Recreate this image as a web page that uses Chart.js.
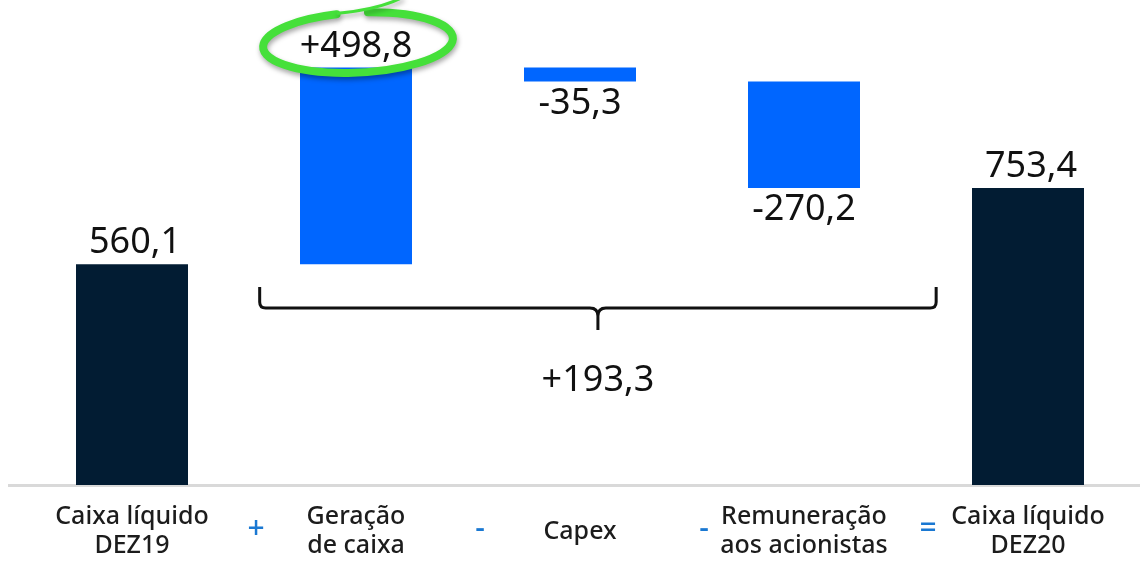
<!DOCTYPE html>
<html>
<head>
<meta charset="utf-8">
<script src="https://cdn.jsdelivr.net/npm/chart.js@4.4.1/dist/chart.umd.min.js"></script>
<style>
  html, body { margin: 0; padding: 0; background: #fff; overflow: hidden; }
  #wrap { width: 1140px; height: 568px; }
</style>
</head>
<body>
<div id="wrap"><canvas id="chart"></canvas></div>
<script>
// waterfall data (R$ milhões)
const categories = [['Caixa líquido', 'DEZ19'], ['Geração', 'de caixa'], ['Capex'], ['Remuneração', 'aos acionistas'], ['Caixa líquido', 'DEZ20']];
const values = [560.1, 498.8, -35.3, -270.2, 753.4];
const isTotal = [true, false, false, false, true];
const operators = ['+', '-', '-', '='];
const variation = 193.3;
const highlightIndex = 1;

const navy = '#021c33';
const blue = '#0066ff';
const opBlue = '#1a78d2';
const numFont = '36px "Noto Sans"';

// floating ranges from running total
let running = 0;
const ranges = values.map((v, i) => {
    if (isTotal[i]) { running = v; return [0, v]; }
    const r = [running, running + v];
    running += v;
    return r;
});

function fmt(v, signed) {
    return (signed && v > 0 ? '+' : '') + v.toFixed(1).replace('.', ',');
}

const annotations = {
    id: 'annotations',
    beforeDatasetsDraw(chart) {
        // light baseline across the whole width
        const ctx = chart.ctx;
        ctx.save();
        ctx.strokeStyle = '#d9d9d9';
        ctx.lineWidth = 3;
        ctx.beginPath();
        ctx.moveTo(8, chart.chartArea.bottom + 0.5);
        ctx.lineTo(chart.width, chart.chartArea.bottom + 0.5);
        ctx.stroke();
        ctx.restore();
    },
    afterDatasetsDraw(chart) {
        const ctx = chart.ctx;
        const meta = chart.getDatasetMeta(0);
        const x = chart.scales.x;
        const area = chart.chartArea;
        const step = x.getPixelForValue(1) - x.getPixelForValue(0);
        ctx.save();
        ctx.font = numFont;
        ctx.fillStyle = '#111';
        ctx.textAlign = 'center';
        ctx.textBaseline = 'middle';

        // value labels
        meta.data.forEach((bar, i) => {
            const v = values[i];
            const top = Math.min(bar.y, bar.base);
            const bottom = Math.max(bar.y, bar.base);
            const y = v >= 0 ? top - 21 : bottom + 22;
            ctx.fillText(fmt(v, !isTotal[i]), bar.x + (isTotal[i] ? 3 : 0), y);
        });

        // green highlight ring
        const hb = meta.data[highlightIndex];
        const cx = hb.x + 2;
        const cy = Math.min(hb.y, hb.base) - 25;
        const a1 = 4.5;
        ctx.save();
        ctx.shadowColor = 'rgba(0,0,0,0.35)';
        ctx.shadowBlur = 5;
        ctx.shadowOffsetX = 1;
        ctx.shadowOffsetY = 3;
        ctx.strokeStyle = '#45e03a';
        ctx.lineWidth = 8;
        ctx.lineCap = 'round';
        ctx.beginPath();
        ctx.ellipse(cx, cy, 95, 30, -0.05, -1.45, a1);
        ctx.stroke();
        ctx.lineWidth = 3;
        ctx.beginPath();
        const sx = cx + 95 * Math.cos(a1), sy = cy + 30 * Math.sin(a1);
        ctx.moveTo(sx, sy);
        ctx.quadraticCurveTo(cx + 20, cy - 33, cx + 44, cy - 45);
        ctx.stroke();
        ctx.restore();

        // brace over the variation
        const L = x.getPixelForValue(1) - 0.43 * step;
        const R = x.getPixelForValue(3) + 0.59 * step;
        const C = (L + R) / 2;
        const yEnd = area.bottom - 198;
        const yMid = area.bottom - 177;
        const yTip = area.bottom - 155;
        ctx.strokeStyle = '#111';
        ctx.lineWidth = 3;
        ctx.beginPath();
        ctx.moveTo(L, yEnd);
        ctx.lineTo(L, yMid - 6);
        ctx.quadraticCurveTo(L, yMid, L + 6, yMid);
        ctx.lineTo(C - 8, yMid);
        ctx.quadraticCurveTo(C, yMid, C, yMid + 8);
        ctx.lineTo(C, yTip);
        ctx.moveTo(C, yMid + 8);
        ctx.quadraticCurveTo(C, yMid, C + 8, yMid);
        ctx.lineTo(R - 6, yMid);
        ctx.quadraticCurveTo(R, yMid, R, yMid - 6);
        ctx.lineTo(R, yEnd);
        ctx.stroke();
        ctx.fillText(fmt(variation, true), C, yTip + 51);

        // operators between categories
        ctx.fillStyle = opBlue;
        ctx.font = '500 30px "Noto Sans"';
        operators.forEach((op, i) => {
            const px = (x.getPixelForValue(i) + x.getPixelForValue(i + 1)) / 2 + 12;
            ctx.fillText(op, px, area.bottom + 44);
        });
        ctx.restore();
    }
};

new Chart(document.getElementById('chart'), {
    type: 'bar',
    data: {
        labels: categories,
        datasets: [{
            data: ranges,
            backgroundColor: values.map((v, i) => isTotal[i] ? navy : blue),
            borderWidth: 0,
            barPercentage: 0.5,
            categoryPercentage: 1
        }]
    },
    options: {
        responsive: true,
        maintainAspectRatio: false,
        animation: false,
        layout: { padding: { left: 20, right: 0, top: 12, bottom: 0 } },
        plugins: {
            legend: { display: false },
            tooltip: { enabled: false }
        },
        scales: {
            x: {
                grid: { display: false },
                border: { display: false },
                ticks: {
                    color: '#1c1c1c',
                    font: { family: '"Noto Sans"', size: 25, weight: '500', lineHeight: 1.15 },
                    padding: 24,
                    crossAlign: 'center',
                    maxRotation: 0,
                    autoSkip: false
                },
                afterFit(scale) { scale.height = 83; }
            },
            y: {
                display: false,
                min: 0,
                max: 1200
            }
        }
    },
    plugins: [annotations]
});
</script>
</body>
</html>
